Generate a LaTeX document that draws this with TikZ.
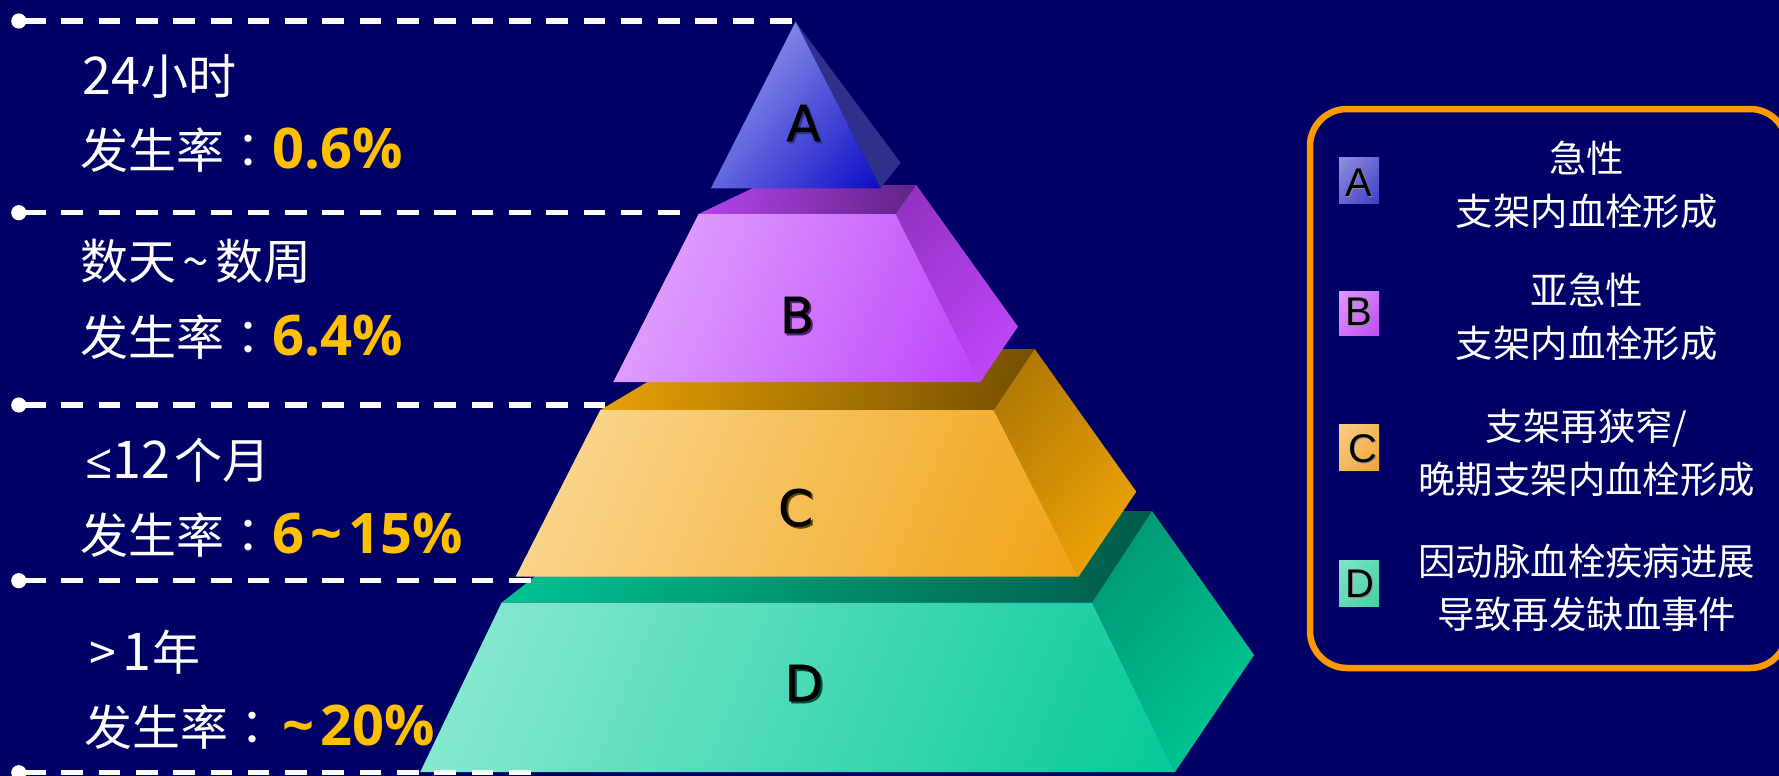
\documentclass[tikz,border=0pt]{standalone}
\usepackage{fontspec}
\setmainfont{Noto Sans CJK SC}
\newfontfamily\colonfont{Noto Sans CJK TC}
\newfontfamily\ratefont{Open Sans}
\newfontfamily\letterfont[FakeBold=1]{DejaVu Sans}
\newfontfamily\keyfont{Liberation Sans}
\definecolor{bgnavy}{HTML}{000066}
\definecolor{rateyellow}{HTML}{FFC000}
\definecolor{keyorange}{HTML}{FF9900}
\definecolor{frontAlight}{HTML}{ABB0F0}
\definecolor{frontAdark}{HTML}{0C0CC8}
\definecolor{sideA}{HTML}{2F2F8C}
\definecolor{frontBlight}{HTML}{E6B2FF}
\definecolor{frontBdark}{HTML}{BC40FA}
\definecolor{topBlight}{HTML}{C048FA}
\definecolor{topBdark}{HTML}{561F78}
\definecolor{sideBlight}{HTML}{9030BE}
\definecolor{sideBdark}{HTML}{C448FF}
\definecolor{frontClight}{HTML}{FBDD9E}
\definecolor{frontCdark}{HTML}{F0A010}
\definecolor{topClight}{HTML}{F6AA06}
\definecolor{topCdark}{HTML}{664500}
\definecolor{sideClight}{HTML}{A87205}
\definecolor{sideCdark}{HTML}{F8AA06}
\definecolor{frontDlight}{HTML}{96ECD6}
\definecolor{frontDdark}{HTML}{00C896}
\definecolor{topDlight}{HTML}{00D09C}
\definecolor{topDdark}{HTML}{004E40}
\definecolor{sideDlight}{HTML}{009070}
\definecolor{sideDdark}{HTML}{00D09A}
\definecolor{swatchAlight}{HTML}{8F90E0}
\definecolor{swatchAdark}{HTML}{3E3EC6}
\definecolor{swatchBlight}{HTML}{DE98FF}
\definecolor{swatchBdark}{HTML}{C04EF2}
\definecolor{swatchClight}{HTML}{F7CE84}
\definecolor{swatchCdark}{HTML}{F0A436}
\definecolor{swatchDlight}{HTML}{84E2C8}
\definecolor{swatchDdark}{HTML}{40D0A2}
\colorlet{faceTop}{white}
\colorlet{faceBot}{black}
\pgfdeclareverticalshading[faceTop,faceBot]{facelong}{100bp}{color(0bp)=(faceBot); color(15bp)=(faceBot); color(85bp)=(faceTop); color(100bp)=(faceTop)}
\newcommand{\ratetext}[1]{\colonfont ：{\ratefont\bfseries\fontsize{28}{30}\selectfont\color{rateyellow}#1}}
\newcommand{\spacedtilde}{\hspace{3pt}\textasciitilde\hspace{3pt}}
\newcommand{\bigdigits}[1]{{\fontsize{26}{28}\selectfont #1}}
\tikzset{
    facetone/.style n args={2}{/utils/exec={\colorlet{faceTop}{#1}\colorlet{faceBot}{#2}}, shade, shading=facelong, shading angle=50, draw=none},
    widefront/.style={shading angle=68},
    timelabel/.style={anchor=west, text=white, inner sep=0pt, font=\fontsize{24}{28}\selectfont},
    keylabel/.style={align=center, text=white, inner sep=0pt, font=\fontsize{18.7}{26.5}\selectfont},
    levelletter/.style={text=black, inner sep=0pt, font=\letterfont\fontsize{25}{28}\selectfont},
    levelshadow/.style={inner sep=0pt, font=\letterfont\fontsize{25}{28}\selectfont},
    keyletter/.style={text=black, inner sep=0pt, font=\keyfont\fontsize{20}{22}\selectfont},
    keyshadow/.style={text=black!45, inner sep=0pt, font=\keyfont\fontsize{20}{22}\selectfont},
}
\begin{document}
\begin{tikzpicture}[x=0.5pt, y=-0.5pt]

    % Background
    \fill[bgnavy] (0,0) rectangle (1779,776);
    \clip (0,0) rectangle (1779,776);

    % Level D
    \path[facetone={topDlight}{topDdark}, shading angle=80] (501.6,602.7) -- (618,511) -- (1152,511) -- (1092,602.7) -- cycle;
    \path[facetone={sideDlight}{sideDdark}] (1092,602.7) -- (1152,511) -- (1254.1,655) -- (1175,772) -- cycle;
    \path[facetone={frontDlight}{frontDdark}, widefront] (501.6,602.7) -- (1092,602.7) -- (1175,772) -- (420.2,772) -- cycle;

    % Level C
    \path[facetone={topClight}{topCdark}, shading angle=80] (600.3,410) -- (703,349) -- (1034.7,349) -- (993.7,410) -- cycle;
    \path[facetone={sideClight}{sideCdark}] (993.7,410) -- (1034.7,349) -- (1136.3,491.7) -- (1078.5,576.7) -- cycle;
    \path[facetone={frontClight}{frontCdark}, widefront] (600.3,410) -- (993.7,410) -- (1078.5,576.7) -- (515.6,576.7) -- cycle;

    % Level B
    \path[facetone={topBlight}{topBdark}, shading angle=80] (698.6,214) -- (759.2,185) -- (916.3,185) -- (895.5,214) -- cycle;
    \path[facetone={sideBlight}{sideBdark}] (895.5,214) -- (916.3,185) -- (1017.9,326.7) -- (980.3,382) -- cycle;
    \path[facetone={frontBlight}{frontBdark}, widefront] (698.6,214) -- (895.5,214) -- (980.3,382) -- (613.3,382) -- cycle;

    % Level A
    \fill[sideA] (795.6,21.7) -- (900.6,162.7) -- (880.4,188.3) -- cycle;
    \path[facetone={frontAlight}{frontAdark}] (795.6,21.7) -- (880.4,188.3) -- (710.9,188.3) -- cycle;

    % Level letters
    \node[levelshadow, text=sideA] (shadowA) at (805.5,125) {A};
    \node[levelletter] (letterA) at (803.5,123) {A};
    \node[levelshadow, text=topBdark] (shadowB) at (799,317) {B};
    \node[levelletter] (letterB) at (797,315) {B};
    \node[levelshadow, text=topCdark] (shadowC) at (797.5,509.5) {C};
    \node[levelletter] (letterC) at (795.6,507.7) {C};
    \node[levelshadow, text=topDdark] (shadowD) at (806,685) {D};
    \node[levelletter] (letterD) at (804,683) {D};

    % Dashed leaders
    \foreach \yline/\xend in {21/792, 212.7/680.6, 405/606, 580.7/531, 772.7/531} {
        \draw[white, line width=2.75pt, dash pattern=on 10.8pt off 7.85pt] (24,\yline) -- (\xend,\yline);
        \fill[white] (18.8,\yline) circle[radius=7.6];
    }

    % Time labels
    \node[timelabel] (timeA) at (82,76) {\bigdigits{24}小时};
    \node[timelabel] (rateA) at (80,150) {发生率\ratetext{0.6\%}};
    \node[timelabel] (timeB) at (80,261.7) {数天\spacedtilde 数周};
    \node[timelabel] (rateB) at (80,336.7) {发生率\ratetext{6.4\%}};
    \node[timelabel] (timeC) at (85,460) {{\ratefont ≤}\bigdigits{12}\hspace{2pt}个月};
    \node[timelabel] (rateC) at (80,535) {发生率\ratetext{6\spacedtilde 15\%}};
    \node[timelabel] (timeD) at (89,651.7) {>\hspace{3pt}\bigdigits{1}\hspace{1pt}年};
    \node[timelabel] (rateD) at (84,726.7) {发生率\ratetext{\spacedtilde 20\%}};

    % Key box
    \draw[keyorange, line width=3.25pt, rounded corners=18.5pt] (1310,109) rectangle (1787,668);

    % Key swatches
    \path[facetone={swatchAlight}{swatchAdark}] (1339,157) rectangle (1379,203.7);
    \path[facetone={swatchBlight}{swatchBdark}] (1339,291) rectangle (1379,335);
    \path[facetone={swatchClight}{swatchCdark}] (1339,424) rectangle (1379,470.7);
    \path[facetone={swatchDlight}{swatchDdark}] (1339,560) rectangle (1379,606.7);
    \node[keyshadow] (keyshadowA) at (1359.5,184) {A};
    \node[keyletter] (keyA) at (1358.5,183) {A};
    \node[keyshadow] (keyshadowB) at (1360,312.7) {B};
    \node[keyletter] (keyB) at (1359,311.7) {B};
    \node[keyshadow] (keyshadowC) at (1363.7,450) {C};
    \node[keyletter] (keyC) at (1362.7,449) {C};
    \node[keyshadow] (keyshadowD) at (1361,585) {D};
    \node[keyletter] (keyD) at (1360,584) {D};

    % Key texts
    \node[keylabel] (textA) at (1586.7,185.3) {急性\\支架内血栓形成};
    \node[keylabel] (textB) at (1586.7,317) {亚急性\\支架内血栓形成};
    \node[keylabel] (textC) at (1586.7,452.5) {支架再狭窄/\\晚期支架内血栓形成};
    \node[keylabel] (textD) at (1586.7,587.5) {因动脉血栓疾病进展\\导致再发缺血事件};

\end{tikzpicture}
\end{document}
